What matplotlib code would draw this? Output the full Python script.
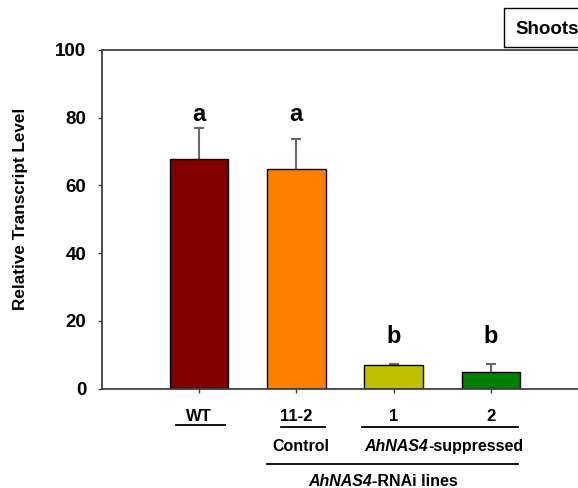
import matplotlib
matplotlib.use("Agg")
import matplotlib.pyplot as plt
from matplotlib.transforms import blended_transform_factory, offset_copy
from matplotlib.patches import Rectangle
from matplotlib.lines import Line2D

plt.rcParams['font.family'] = ['Liberation Sans', 'DejaVu Sans']
plt.rcParams['font.weight'] = 'bold'

# Data
categories = ['WT', '11-2', '1', '2']
means = [67.8, 64.9, 6.9, 4.8]
errors = [9.2, 8.8, 0.3, 2.4]
letters = ['a', 'a', 'b', 'b']
bar_colors = ['#800000', '#FF8000', '#C0C000', '#008000']
letter_heights = {'a': 80.8, 'b': 15.5}

W, H, DPI = 578, 488, 100
fig = plt.figure(figsize=(W / DPI, H / DPI), dpi=DPI)

# axes placed in pixel terms; right edge runs past the figure border
ax_left, ax_right, ax_top, ax_bottom = 102, 636.5, 50, 388.5
ax = fig.add_axes([ax_left / W, 1 - ax_bottom / H,
                   (ax_right - ax_left) / W, (ax_bottom - ax_top) / H])

x = list(range(len(categories)))
ax.bar(x, means, width=0.6, color=bar_colors, edgecolor='black', linewidth=1.0, zorder=2)
eb = ax.errorbar(x, means, yerr=[[0] * len(means), errors], fmt='none',
                 ecolor='#6a6a6a', elinewidth=1.5, capsize=3.8, capthick=1.5, zorder=1)
# only the upper whisker gets a cap
eb[1][0].set_visible(False)

for xi, let in zip(x, letters):
    ax.text(xi, letter_heights[let], let, ha='center', va='center',
            fontsize=17, fontweight='bold')

ax.set_xlim(-1, 4.5)
ax.set_ylim(0, 100)
ax.set_yticks([0, 20, 40, 60, 80, 100])
ax.set_xticks(x)
ax.set_xticklabels(categories, fontsize=12, fontweight='bold')
ax.tick_params(axis='y', direction='out', length=3, width=1.0, color='#404040',
               labelsize=13.5, pad=8.4)
ax.tick_params(axis='x', direction='out', length=3, width=1.0, color='#404040',
               labelsize=12, pad=12)
for lab in ax.get_yticklabels():
    lab.set_fontweight('bold')
for sp in ax.spines.values():
    sp.set_color('#404040')
    sp.set_linewidth(1.3)

fig.text(21 / W, 1 - 209 / H, 'Relative Transcript Level', rotation=90,
         ha='center', va='center', fontsize=12.3, fontweight='bold')

# group annotations below the x axis: x in data units, y in figure pixels
trans = blended_transform_factory(ax.transData, fig.transFigure)


def hline(x0, x1, y_px):
    fig.add_artist(Line2D([x0, x1], [1 - y_px / H] * 2, transform=trans,
                          color='black', linewidth=1.3, clip_on=False))


hline(-0.24, 0.27, 424.5)
hline(0.84, 1.29, 426.7)
hline(1.68, 3.28, 427.3)
hline(0.70, 3.28, 464)


def mixed_label(xc, y_px, runs, size):
    texts = []
    for s, style in runs:
        t = ax.text(xc, 1 - y_px / H, s, transform=trans, ha='left', va='center',
                    fontsize=size, fontweight='bold', fontstyle=style, clip_on=False)
        texts.append(t)
    fig.canvas.draw()
    r = fig.canvas.get_renderer()
    widths = [t.get_window_extent(renderer=r).width for t in texts]
    total = sum(widths)
    cum = -total / 2
    for t, w in zip(texts, widths):
        t.set_transform(offset_copy(trans, fig=fig, x=cum, y=0, units='dots'))
        cum += w


mixed_label(1.05, 446.7, [('Control', 'normal')], 11.5)
mixed_label(2.52, 446.7, [('AhNAS4', 'italic'), ('-suppressed', 'normal')], 11.5)
mixed_label(1.89, 482, [('AhNAS4', 'italic'), ('-RNAi lines', 'normal')], 11.5)

# panel tag box at the top right
fig.add_artist(Rectangle((504 / W, 1 - 47 / H), 120 / W, 39 / H,
                         transform=fig.transFigure, facecolor='white',
                         edgecolor='black', linewidth=1.0, clip_on=False))
fig.text(515 / W, 1 - 29 / H, 'Shoots', ha='left', va='center',
         fontsize=13.5, fontweight='bold')

fig.savefig('out.png', dpi=DPI)
